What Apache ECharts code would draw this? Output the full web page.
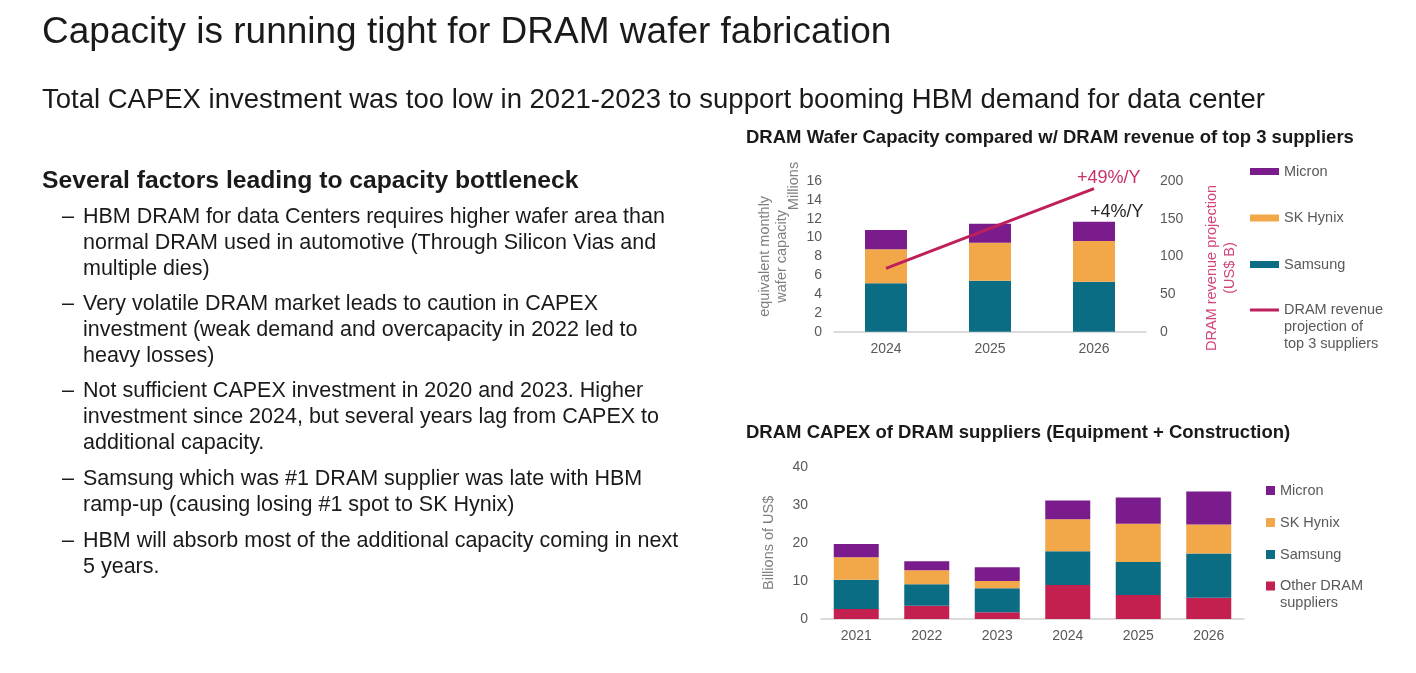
<!DOCTYPE html>
<html>
<head>
<meta charset="utf-8">
<script src="https://cdn.jsdelivr.net/npm/echarts@6/dist/echarts.min.js"></script>
<style>
html,body{margin:0;padding:0;background:#fff;}
#main{width:1416px;height:673px;}
</style>
</head>
<body>
<div id="main"></div>
<script>
// ---- Data: DRAM wafer capacity (millions of equivalent monthly wafers) ----
const capYears = ['2024', '2025', '2026'];
const capSamsung = [5.14, 5.42, 5.31];
const capSkHynix = [3.61, 4.03, 4.32];
const capMicron = [2.05, 2.02, 2.05];
// DRAM revenue projection of top 3 suppliers (US$ B)
const revenueProjection = [84, 137, 190];

// ---- Data: DRAM CAPEX (billions of US$) ----
const capexYears = ['2021', '2022', '2023', '2024', '2025', '2026'];
const capexOther = [2.6, 3.5, 1.75, 8.9, 6.3, 5.6];
const capexSamsung = [7.7, 5.6, 6.35, 8.9, 8.7, 11.6];
const capexSkHynix = [5.9, 3.7, 1.9, 8.4, 10.0, 7.6];
const capexMicron = [3.5, 2.4, 3.6, 4.9, 6.9, 8.7];

// ---- Text ----
const slideTitle = 'Capacity is running tight for DRAM wafer fabrication';
const slideSubtitle = 'Total CAPEX investment was too low in 2021-2023 to support booming HBM demand for data center';
const heading = 'Several factors leading to capacity bottleneck';
const bullets = [
  ['HBM DRAM for data Centers requires higher wafer area than', 'normal DRAM used in automotive (Through Silicon Vias and', 'multiple dies)'],
  ['Very volatile DRAM market leads to caution in CAPEX', 'investment (weak demand and overcapacity in 2022 led to', 'heavy losses)'],
  ['Not sufficient CAPEX investment in 2020 and 2023. Higher', 'investment since 2024, but several years lag from CAPEX to', 'additional capacity.'],
  ['Samsung which was #1 DRAM supplier was late with HBM', 'ramp-up (causing losing #1 spot to SK Hynix)'],
  ['HBM will absorb most of the additional capacity coming in next', '5 years.']
];
const chart1Title = 'DRAM Wafer Capacity compared w/ DRAM revenue of top 3 suppliers';
const chart2Title = 'DRAM CAPEX of DRAM suppliers (Equipment + Construction)';
const lineName = 'DRAM revenue projection of top 3 suppliers';
const otherName = 'Other DRAM suppliers';

const C = {
  micron: '#7B1C8C',
  sk: '#F2A848',
  samsung: '#0B6D84',
  other: '#C4204F',
  line: '#BF1F5A'
};
const FONT = '"Liberation Sans", Arial, sans-serif';
const tickStyle = { color: '#595959', fontSize: 14, fontFamily: FONT };

// ---- graphic text for the slide ----
const graphics = [];
graphics.push({ type: 'text', x: 42, y: 33, style: { text: slideTitle, font: '37px ' + FONT, fill: '#1a1a1a', verticalAlign: 'middle' } });
graphics.push({ type: 'text', x: 42, y: 100, style: { text: slideSubtitle, font: '27.5px ' + FONT, fill: '#1a1a1a', verticalAlign: 'middle' } });
graphics.push({ type: 'text', x: 42, y: 181, style: { text: heading, font: 'bold 24.7px ' + FONT, fill: '#1a1a1a', verticalAlign: 'middle' } });
const bulletStarts = [217, 304, 391, 479, 541];
bullets.forEach((lines, i) => {
  const y0 = bulletStarts[i];
  graphics.push({ type: 'text', x: 62, y: y0, style: { text: '\u2013', font: '21.5px ' + FONT, fill: '#1a1a1a', verticalAlign: 'middle' } });
  lines.forEach((ln, j) => {
    graphics.push({ type: 'text', x: 83, y: y0 + j * 26, style: { text: ln, font: '21.5px ' + FONT, fill: '#1a1a1a', verticalAlign: 'middle' } });
  });
});
graphics.push({ type: 'text', x: 746, y: 138, style: { text: chart1Title, font: 'bold 18.5px ' + FONT, fill: '#1a1a1a', verticalAlign: 'middle' } });
graphics.push({ type: 'text', x: 746, y: 433, style: { text: chart2Title, font: 'bold 18.5px ' + FONT, fill: '#1a1a1a', verticalAlign: 'middle' } });
// unit label
graphics.push({ type: 'text', x: 794, y: 186, rotation: Math.PI / 2, style: { text: 'Millions', font: '14.5px ' + FONT, fill: '#7f7f7f', align: 'center', verticalAlign: 'middle' } });
// right axis name
graphics.push({ type: 'text', x: 1221, y: 268, rotation: Math.PI / 2, style: { text: 'DRAM revenue projection\n(US$ B)', font: '14.5px ' + FONT, fill: '#D2457C', align: 'center', verticalAlign: 'middle', lineHeight: 18 } });
// growth annotations
graphics.push({ type: 'text', x: 1077, y: 178, style: { text: '+49%/Y', font: '18px ' + FONT, fill: '#C8306A', verticalAlign: 'middle' } });
graphics.push({ type: 'text', x: 1090, y: 212, style: { text: '+4%/Y', font: '18px ' + FONT, fill: '#262626', verticalAlign: 'middle' } });

const legendText = { color: '#595959', fontSize: 14.5, fontFamily: FONT, lineHeight: 17 };

const option = {
  backgroundColor: '#ffffff',
  animation: false,
  graphic: graphics,
  legend: [
    {
      orient: 'vertical', left: 1250, top: 163, padding: 0,
      itemWidth: 29, itemHeight: 7, itemGap: 29.5,
      textStyle: legendText,
      icon: 'rect',
      data: ['Micron', 'SK Hynix', 'Samsung'],
      selectedMode: false
    },
    {
      orient: 'vertical', left: 1250, top: 310 - 42.5, padding: 0,
      itemWidth: 29, itemHeight: 3,
      icon: 'rect',
      textStyle: legendText,
      data: [lineName],
      formatter: () => '\n\nDRAM revenue\nprojection of\ntop 3 suppliers',
      selectedMode: false
    },
    {
      orient: 'vertical', left: 1266, top: 482, padding: 0,
      itemWidth: 9, itemHeight: 9, itemGap: 15,
      icon: 'rect',
      textStyle: legendText,
      data: ['Micron', 'SK Hynix', 'Samsung'],
      selectedMode: false
    },
    {
      orient: 'vertical', left: 1266, top: 586 - 25.5, padding: 0,
      itemWidth: 9, itemHeight: 9,
      icon: 'rect',
      textStyle: legendText,
      data: [otherName],
      formatter: () => '\nOther DRAM\nsuppliers',
      selectedMode: false
    }
  ],
  grid: [
    { left: 834, top: 181, width: 312, height: 150.7 },
    { left: 821, top: 466.7, width: 423, height: 152.3 }
  ],
  xAxis: [
    {
      type: 'category', gridIndex: 0, data: capYears,
      axisLine: { lineStyle: { color: '#d0d0d0', width: 1.5 } },
      axisTick: { show: false },
      axisLabel: Object.assign({ margin: 10 }, tickStyle)
    },
    {
      type: 'category', gridIndex: 1, data: capexYears,
      axisLine: { lineStyle: { color: '#d0d0d0', width: 1.5 } },
      axisTick: { show: false },
      axisLabel: Object.assign({ margin: 10 }, tickStyle)
    }
  ],
  yAxis: [
    {
      type: 'value', gridIndex: 0, min: 0, max: 16, interval: 2,
      splitLine: { show: false }, axisLine: { show: false }, axisTick: { show: false },
      axisLabel: Object.assign({ margin: 12 }, tickStyle),
      name: 'equivalent monthly\nwafer capacity', nameLocation: 'middle', nameGap: 44, nameRotate: 90,
      nameTextStyle: { color: '#7f7f7f', fontSize: 14.5, fontFamily: FONT, lineHeight: 17 }
    },
    {
      type: 'value', gridIndex: 0, min: 0, max: 200, interval: 50, position: 'right',
      splitLine: { show: false }, axisLine: { show: false }, axisTick: { show: false },
      axisLabel: Object.assign({ margin: 14 }, tickStyle)
    },
    {
      type: 'value', gridIndex: 1, min: 0, max: 40, interval: 10,
      splitLine: { show: false }, axisLine: { show: false }, axisTick: { show: false },
      axisLabel: Object.assign({ margin: 13 }, tickStyle),
      name: 'Billions of US$', nameLocation: 'middle', nameGap: 45, nameRotate: 90,
      nameTextStyle: { color: '#7f7f7f', fontSize: 14.5, fontFamily: FONT }
    }
  ],
  series: [
    { name: 'Samsung', type: 'bar', stack: 'cap', xAxisIndex: 0, yAxisIndex: 0, barWidth: 42, data: capSamsung, itemStyle: { color: C.samsung } },
    { name: 'SK Hynix', type: 'bar', stack: 'cap', xAxisIndex: 0, yAxisIndex: 0, barWidth: 42, data: capSkHynix, itemStyle: { color: C.sk } },
    { name: 'Micron', type: 'bar', stack: 'cap', xAxisIndex: 0, yAxisIndex: 0, barWidth: 42, data: capMicron, itemStyle: { color: C.micron } },
    { name: lineName, type: 'line', xAxisIndex: 0, yAxisIndex: 1, data: revenueProjection, symbol: 'none', lineStyle: { color: C.line, width: 3 }, itemStyle: { color: C.line }, z: 5 },

    { name: otherName, type: 'bar', stack: 'capex', xAxisIndex: 1, yAxisIndex: 2, barWidth: 45, data: capexOther, itemStyle: { color: C.other } },
    { name: 'Samsung', type: 'bar', stack: 'capex', xAxisIndex: 1, yAxisIndex: 2, barWidth: 45, data: capexSamsung, itemStyle: { color: C.samsung } },
    { name: 'SK Hynix', type: 'bar', stack: 'capex', xAxisIndex: 1, yAxisIndex: 2, barWidth: 45, data: capexSkHynix, itemStyle: { color: C.sk } },
    { name: 'Micron', type: 'bar', stack: 'capex', xAxisIndex: 1, yAxisIndex: 2, barWidth: 45, data: capexMicron, itemStyle: { color: C.micron } }
  ]
};

const chart = echarts.init(document.getElementById('main'), null, { renderer: 'canvas' });
chart.setOption(option);
</script>
</body>
</html>
